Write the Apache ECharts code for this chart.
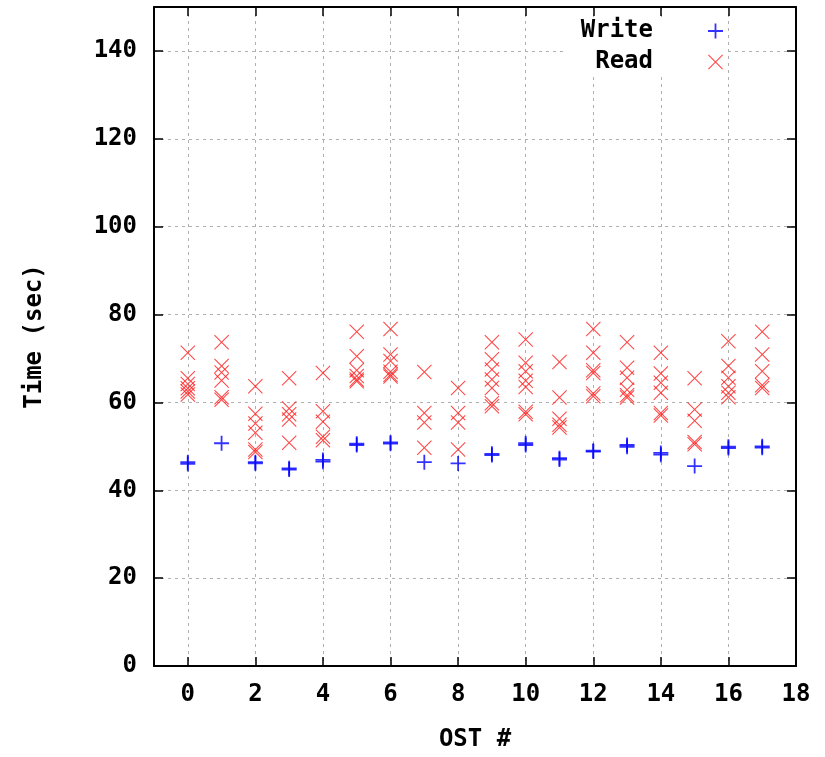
<!DOCTYPE html>
<html>
<head>
<meta charset="utf-8">
<script src="https://cdn.jsdelivr.net/npm/echarts@6/dist/echarts.min.js"></script>
<style>
  html, body { margin: 0; padding: 0; background: #fff; }
  #chart { width: 825px; height: 757px; }
</style>
</head>
<body>
<div id="chart"></div>
<script>
// OST numbers on the x axis
var osts = [0, 1, 2, 3, 4, 5, 6, 7, 8, 9, 10, 11, 12, 13, 14, 15, 16, 17];

// write times per OST (sec)
var writeTimes = [
  [46.0, 46.4], [50.7], [46.1, 46.4], [44.7, 45.0], [46.5, 46.9], [50.3, 50.6],
  [50.6, 50.9], [46.4], [46.1], [48.0, 48.3], [50.3, 50.7], [47.0, 47.3],
  [48.8, 49.0], [49.9, 50.3], [48.1, 48.5], [45.5], [49.6, 49.9], [49.7, 50.0]
];

// read times per OST (sec)
var readTimes = [
  [71.3, 65.5, 64.2, 63.2, 62.5, 61.8],
  [73.7, 68.3, 66.8, 65.0, 61.2, 60.6],
  [63.7, 57.4, 55.2, 53.1, 49.3, 48.7],
  [65.5, 58.6, 57.3, 56.1, 50.8],
  [66.7, 58.0, 55.6, 52.2, 51.4],
  [76.1, 70.5, 67.3, 66.0, 65.2, 64.8],
  [76.7, 70.9, 69.4, 67.0, 66.3, 65.9],
  [66.9, 57.6, 55.4, 49.7],
  [63.3, 57.6, 55.4, 49.3],
  [73.7, 69.8, 67.5, 65.2, 63.3, 59.8, 59.1],
  [74.3, 69.0, 67.1, 64.9, 63.5, 57.9, 57.3],
  [69.2, 61.1, 56.3, 54.9, 54.3],
  [76.7, 71.3, 67.3, 66.7, 62.0, 61.4],
  [73.7, 67.9, 65.6, 62.9, 61.6, 61.1],
  [71.3, 66.6, 64.5, 62.2, 57.6, 57.0],
  [65.5, 58.4, 55.8, 51.0, 50.5],
  [73.9, 68.3, 65.6, 63.7, 62.2, 61.2],
  [76.1, 70.9, 67.1, 63.9, 63.3]
];

var xTicks = [0, 2, 4, 6, 8, 10, 12, 14, 16];
var xLabels = [0, 2, 4, 6, 8, 10, 12, 14, 16, 18];

function flatten(list) {
  var out = [];
  list.forEach(function (vals, i) {
    vals.forEach(function (v) { out.push([osts[i], v]); });
  });
  return out;
}

var plusPath = 'path://M-1.2,-10H1.2V-1.2H10V1.2H1.2V10H-1.2V1.2H-10V-1.2H-1.2Z';
var crossPath = 'path://M-10,-9L-9,-10L0,-1L9,-10L10,-9L1,0L10,9L9,10L0,1L-9,10L-10,9L-1,0Z';

var font = 'DejaVu Sans Mono';
var gridLine = { show: true, lineStyle: { color: '#b0b0b0', type: [3, 4], width: 1 } };
var frame = { show: true, onZero: false, lineStyle: { color: '#000', width: 2 } };

var option = {
  backgroundColor: '#fff',
  animation: false,
  grid: { left: 154, right: 29, top: 7, bottom: 90 },
  legend: {
    orient: 'vertical',
    right: 98,
    top: 17,
    align: 'right',
    itemWidth: 15,
    itemHeight: 15,
    itemGap: 7,
    backgroundColor: '#fff',
    padding: [2, 4, 2, 14],
    textStyle: { fontFamily: font, fontWeight: 'bold', fontSize: 24, color: '#000', lineHeight: 23, padding: [0, 50, 0, 0] },
    data: ['Write', 'Read']
  },
  xAxis: [{
    type: 'value', min: -1, max: 18, position: 'bottom',
    name: 'OST #', nameLocation: 'middle', nameGap: 62,
    nameTextStyle: { fontFamily: font, fontWeight: 'bold', fontSize: 24, color: '#000' },
    axisLine: frame,
    axisTick: { inside: true, length: 9, customValues: xTicks, lineStyle: { color: '#000', width: 1.5 } },
    axisLabel: { customValues: xLabels, margin: 17, fontFamily: font, fontWeight: 'bold', fontSize: 24, color: '#000' },
    splitLine: gridLine
  }, {
    type: 'value', min: -1, max: 18, position: 'top',
    axisLine: frame,
    axisTick: { inside: true, length: 9, customValues: xTicks, lineStyle: { color: '#000', width: 1.5 } },
    axisLabel: { show: false },
    splitLine: { show: false }
  }],
  yAxis: [{
    type: 'value', min: 0, max: 150, interval: 20, position: 'left',
    name: 'Time (sec)', nameLocation: 'middle', nameGap: 107, nameRotate: 90,
    nameTextStyle: { fontFamily: font, fontWeight: 'bold', fontSize: 24, color: '#000' },
    axisLine: frame,
    axisTick: { inside: true, length: 9, lineStyle: { color: '#000', width: 1.5 } },
    axisLabel: { margin: 17, fontFamily: font, fontWeight: 'bold', fontSize: 24, color: '#000',
      formatter: function (v) { return v > 140 ? '' : v; } },
    splitLine: gridLine
  }, {
    type: 'value', min: 0, max: 150, interval: 20, position: 'right',
    axisLine: frame,
    axisTick: { inside: true, length: 9, lineStyle: { color: '#000', width: 1.5 } },
    axisLabel: { show: false },
    splitLine: { show: false }
  }],
  series: [{
    name: 'Write', type: 'scatter', xAxisIndex: 0, yAxisIndex: 0,
    symbol: plusPath, symbolSize: 15,
    itemStyle: { color: '#0000ff' },
    data: flatten(writeTimes)
  }, {
    name: 'Read', type: 'scatter', xAxisIndex: 0, yAxisIndex: 0,
    symbol: crossPath, symbolSize: 15,
    itemStyle: { color: '#ff1a1a' },
    data: flatten(readTimes)
  }]
};

var chart = echarts.init(document.getElementById('chart'));
chart.setOption(option);
</script>
</body>
</html>
